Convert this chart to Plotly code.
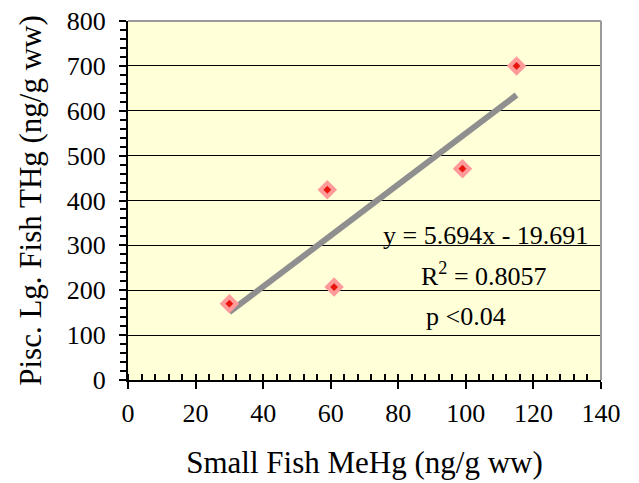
import plotly.graph_objects as go

# Small fish MeHg vs piscivorous large fish THg (ng/g ww)
small_fish_mehg = [30, 59, 61, 99, 115]
large_fish_thg = [170, 424, 207, 471, 700]

# Linear fit reported for the data
slope = 5.694
intercept = -19.691
fit_x = [min(small_fish_mehg), max(small_fish_mehg)]
fit_y = [slope * x + intercept for x in fit_x]

serif = "Liberation Serif, Times New Roman, serif"

fig = go.Figure()

fig.add_trace(go.Scatter(
    x=fit_x, y=fit_y, mode="lines",
    line=dict(color="#8f8f8f", width=6),
    showlegend=False, hoverinfo="skip",
))
# pink halo + red core for each diamond marker
fig.add_trace(go.Scatter(
    x=small_fish_mehg, y=large_fish_thg, mode="markers",
    marker=dict(symbol="diamond", size=15, color="#ff9a9a", line=dict(width=0)),
    showlegend=False,
))
fig.add_trace(go.Scatter(
    x=small_fish_mehg, y=large_fish_thg, mode="markers",
    marker=dict(symbol="diamond", size=6, color="#e8150c", line=dict(width=0)),
    showlegend=False,
))

for txt, xx, yy in [
    ("y = 5.694x - 19.691", 105.8, 322),
    ("R<sup>2</sup> = 0.8057", 105.5, 236),
    ("p <0.04", 100.0, 142),
]:
    fig.add_annotation(x=xx, y=yy, text=txt, showarrow=False,
                       font=dict(family=serif, size=26, color="black"))

# top and right frame of the plot area
fig.add_shape(type="line", xref="paper", yref="paper", x0=0, x1=1, y0=1, y1=1,
              line=dict(color="#9a9a9a", width=2))
fig.add_shape(type="line", xref="paper", yref="paper", x0=1, x1=1, y0=0, y1=1,
              line=dict(color="#9a9a9a", width=2))

tick_font = dict(family=serif, size=26, color="black")

fig.update_layout(
    width=639, height=483,
    margin=dict(l=128, r=38, t=21, b=103),
    paper_bgcolor="white",
    plot_bgcolor="#ffffd8",
    font=dict(family=serif, size=26, color="black"),
    xaxis=dict(
        range=[0, 140], dtick=20, tick0=0, automargin=False,
        showgrid=False, zeroline=False,
        showline=True, linecolor="black", linewidth=2,
        ticks="outside", ticklen=7, tickwidth=1.5, tickcolor="black",
        tickfont=tick_font, ticklabelstandoff=2,
        minor=dict(dtick=4, ticks="inside", ticklen=6, tickwidth=1.5, tickcolor="black", showgrid=False),
        title=dict(text="Small Fish MeHg (ng/g ww)", font=dict(size=31), standoff=24),
    ),
    yaxis=dict(
        range=[0, 800], dtick=100, tick0=0, automargin=False,
        showgrid=True, gridcolor="black", gridwidth=1,
        zeroline=False,
        showline=True, linecolor="black", linewidth=2,
        ticks="outside", ticklen=7, tickwidth=1.5, tickcolor="black",
        tickfont=tick_font, ticklabelstandoff=8,
        minor=dict(dtick=20, ticks="outside", ticklen=6, tickwidth=1.5, tickcolor="black", showgrid=False),
        title=dict(text="Pisc. Lg. Fish THg (ng/g ww)", font=dict(size=31), standoff=16),
    ),
)

fig.write_html("out.html")
